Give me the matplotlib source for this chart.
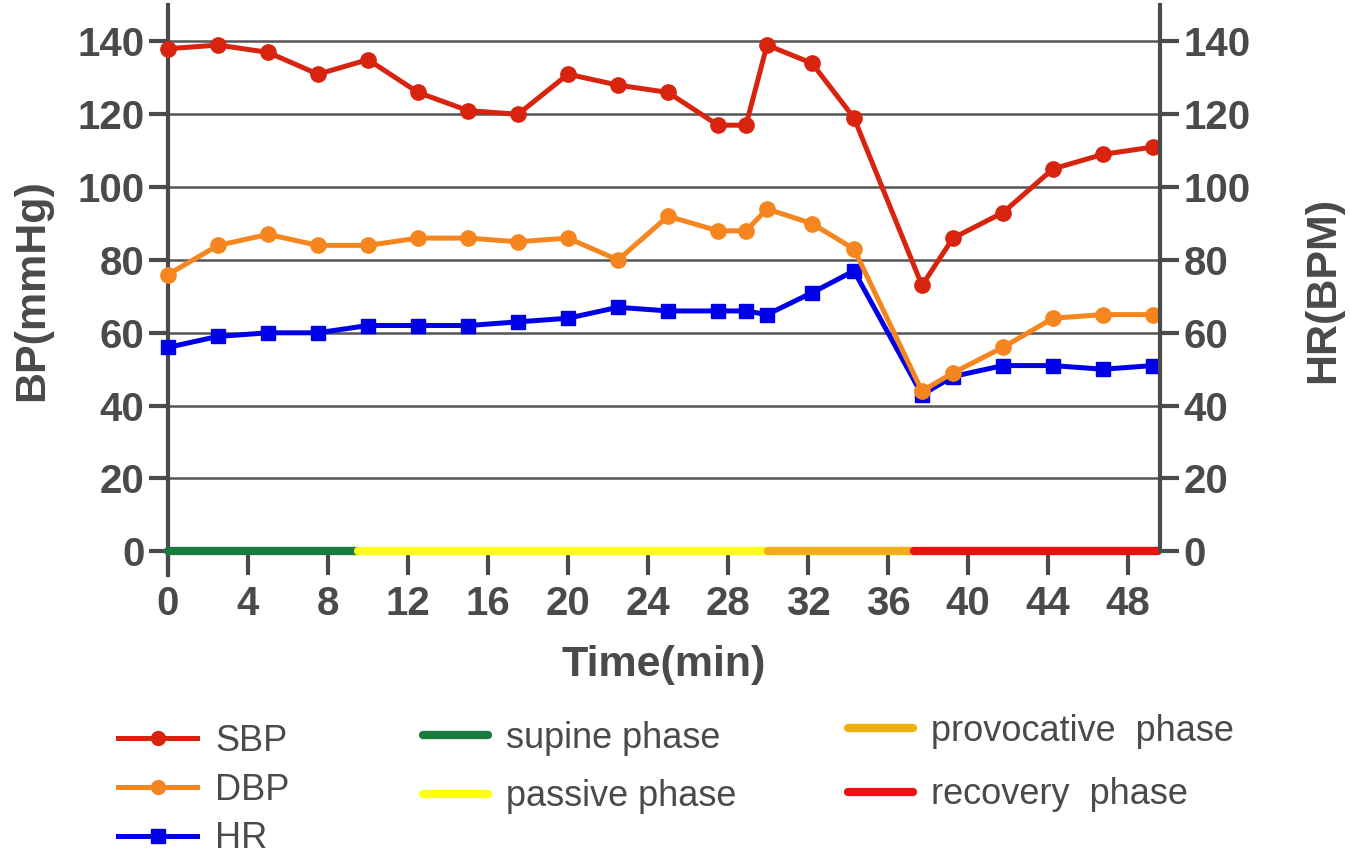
"""BP / HR time course with phase bars
"""

import matplotlib
matplotlib.use('Agg')
from matplotlib import pyplot
from matplotlib.lines import Line2D

# time points (min)
time_min = [0, 2.5, 5, 7.5, 10, 12.5, 15, 17.5, 20, 22.5, 25, 27.5, 28.9, 29.95,
            32.2, 34.3, 37.7, 39.25, 41.75, 44.25, 46.75, 49.25]
sbp = [138, 139, 137, 131, 135, 126, 121, 120, 131, 128, 126, 117, 117, 139,
       134, 119, 73, 86, 93, 105, 109, 111]
dbp = [76, 84, 87, 84, 84, 86, 86, 85, 86, 80, 92, 88, 88, 94,
       90, 83, 44, 49, 56, 64, 65, 65]
hr = [56, 59, 60, 60, 62, 62, 62, 63, 64, 67, 66, 66, 66, 65,
      71, 77, 43, 48, 51, 51, 50, 51]

# phases: start, end, colour, legend label
phase_names = ['supine phase', 'passive phase', 'provocative  phase', 'recovery  phase']
phase_start = [0, 9.5, 30, 37.3]
phase_end = [9.5, 30, 37.3, 49.5]
phase_colors = ['#1b7a3e', '#ffff14', '#f0b010', '#ee1010']

x_ticks = list(range(0, 49, 4))
y_ticks = list(range(0, 141, 20))

GREY = '#4a4a4a'
pyplot.rcParams['font.family'] = 'Liberation Sans'

fig = pyplot.figure(figsize=(13.5, 8.63), dpi=100)
ax = fig.add_axes([168 / 1350, 1 - 575 / 863, (1160 - 168) / 1350, (575 - 5) / 863])
ax2 = ax.twinx()

# grid
for y in y_ticks[1:]:
    ax.axhline(y, color='#555555', lw=1.8, zorder=1)

# phase bars on the zero line
for start, end, color in zip(phase_start, phase_end, phase_colors):
    ax.plot([start, end], [0, 0], color=color, lw=6, solid_capstyle='round',
            zorder=3, clip_on=False)

ax.plot(time_min, hr, color='#0000e8', lw=3.6, marker='s', ms=10.5, zorder=4, clip_on=False)
ax.plot(time_min, dbp, color='#f5861f', lw=3.6, marker='o', ms=11, zorder=5, clip_on=False)
ax.plot(time_min, sbp, color='#d8230f', lw=3.6, marker='o', ms=11, zorder=6, clip_on=False)

for a in (ax, ax2):
    a.set_xlim(0, 49.6)
    a.set_ylim(-6.5, 150)
    a.spines['top'].set_visible(False)
    a.spines['bottom'].set_visible(False)
    for side in ('left', 'right'):
        a.spines[side].set_color(GREY)
        a.spines[side].set_linewidth(3)
    a.set_yticks(y_ticks)
    a.tick_params(axis='y', length=14, width=3, color=GREY, labelsize=29,
                  labelcolor=GREY, pad=3)
    for lab in a.get_yticklabels():
        lab.set_fontweight('bold')
ax.spines['right'].set_visible(False)
ax2.spines['left'].set_visible(False)
ax2.spines['right'].set_bounds(0, 150)

ax.set_xticks(x_ticks)
ax.tick_params(axis='x', direction='in', length=16.5, width=3, color=GREY,
               labelsize=29, labelcolor=GREY, pad=7)
for lab in ax.get_xticklabels():
    lab.set_fontweight('bold')

ax.set_xlabel('Time(min)', fontsize=31, fontweight='bold', color=GREY, labelpad=16)
ax.set_ylabel('BP(mmHg)', fontsize=31, fontweight='bold', color=GREY, labelpad=18)
ax2.set_ylabel('HR(BPM)', fontsize=31, fontweight='bold', color=GREY, labelpad=38)

# legends, three columns
series_handles = [
    Line2D([], [], color='#d8230f', lw=3.6, marker='o', ms=10),
    Line2D([], [], color='#f5861f', lw=3.6, marker='o', ms=10),
    Line2D([], [], color='#0000e8', lw=3.6, marker='s', ms=10),
]
phase_handles = [Line2D([], [], color=c, lw=6, solid_capstyle='round') for c in phase_colors]

leg_kw = dict(frameon=False, fontsize=26, labelcolor=GREY, borderpad=0,
              borderaxespad=0, loc='upper left', handletextpad=0.5)
fig.legend(series_handles, ['SBP', 'DBP', 'HR'], bbox_to_anchor=(118 / 1350, 1 - 724 / 863),
           handlelength=2.2, labelspacing=0.38, **leg_kw)
fig.legend(phase_handles[:2], phase_names[:2], bbox_to_anchor=(423 / 1350, 1 - 721 / 863),
           handlelength=1.8, labelspacing=0.65, **leg_kw)
fig.legend(phase_handles[2:], phase_names[2:], bbox_to_anchor=(848 / 1350, 1 - 714 / 863),
           handlelength=1.8, labelspacing=0.78, **leg_kw)

fig.savefig('out.png', dpi=100)
